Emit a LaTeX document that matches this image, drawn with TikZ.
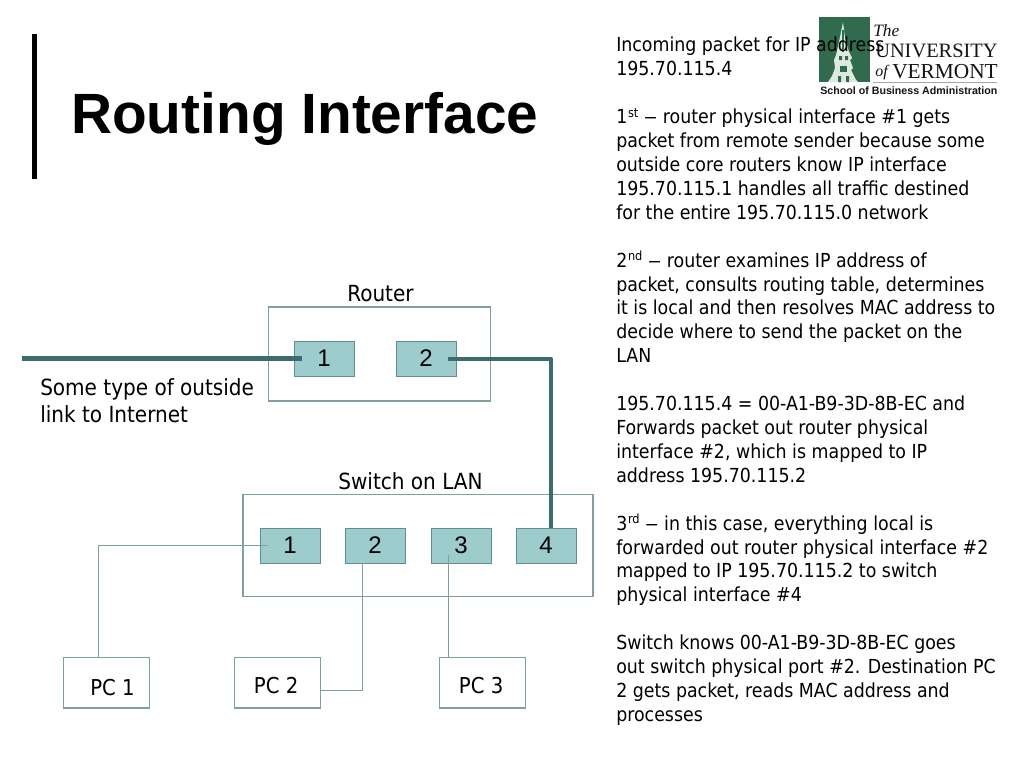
\documentclass[tikz,border=0pt]{standalone}
\usepackage{graphicx}
\usepackage{fontspec}
\setmainfont{Liberation Sans}
\newfontfamily\logoserif{Liberation Serif}
\newfontfamily\tah{DejaVu Sans Condensed}
\newcommand{\ordsup}[1]{\kern0.5pt\raisebox{0.6ex}{\fontsize{9.5}{9}\selectfont #1}}
\newcommand{\widedash}{\scalebox{1.55}[1]{–}}
\newcommand{\pclabel}[2]{\smash{\raisebox{#1}{#2}}}
\definecolor{lineteal}{HTML}{3B6C6E}
\definecolor{boxline}{HTML}{7F9FA0}
\definecolor{portfill}{HTML}{9CCCCC}
\definecolor{portline}{HTML}{5F8F8F}
\definecolor{uvmgreen}{HTML}{2F6B4C}
\definecolor{uvmpale}{HTML}{DDE9DF}
\tikzset{
  outerbox/.style={draw=boxline,line width=0.8pt,fill=white,minimum width=#1,inner sep=0pt},
  portbox/.style={draw=portline,line width=0.7pt,fill=portfill,minimum width=45pt,minimum height=26.2pt,inner sep=0pt,font=\fontsize{18}{20}\selectfont},
  pcbox/.style={draw=boxline,line width=0.8pt,fill=white,minimum width=64.5pt,minimum height=38.2pt,inner sep=0pt,font=\tah\fontsize{16.4}{18}\selectfont},
  lab/.style={inner sep=0pt,font=\tah\fontsize{16.7}{20.5}\selectfont,align=left},
  thickwire/.style={draw=lineteal,line width=4.4pt},
  midwire/.style={draw=lineteal,line width=3pt,line join=round},
  thinwire/.style={draw=boxline,line width=0.8pt},
  logotext/.style={anchor=base west,inner sep=0pt,text=black!92},
}
\begin{document}
\begin{tikzpicture}[x=0.75pt,y=-0.75pt]
\useasboundingbox (0,0) rectangle (1024,768);
\fill[white] (0,0) rectangle (1024,768);
% title
\fill[black] (31.5,34) rectangle (37,179);
\node[anchor=base west,inner sep=0pt,font=\bfseries\fontsize{42.6}{48}\selectfont] (title) at (71,133) {Routing Interface};
% router
\node[outerbox=167pt,minimum height=70.5pt] (router) at (379.5,354) {};
\node[portbox] (r1) at (324,358.5) {1};
\node[portbox] (r2) at (426,358.5) {2};
\node[lab] (routerlab) at (380.5,293.5) {Router};
% switch
\node[outerbox=262.5pt,minimum height=77pt] (switch) at (418,545.5) {};
\node[portbox] (s1) at (290,545.5) {1};
\node[portbox] (s2) at (375,545.5) {2};
\node[portbox] (s3) at (461,545.5) {3};
\node[portbox] (s4) at (546,545.5) {4};
\node[lab] (switchlab) at (410.5,481) {Switch on LAN};
% PCs
\node[pcbox] (pc1) at (106.5,682.5) {\hspace*{9pt}\pclabel{-9.4pt}{PC 1}};
\node[pcbox] (pc2) at (277.5,682.5) {\hspace*{-2pt}\pclabel{-7.9pt}{PC 2}};
\node[pcbox] (pc3) at (482.5,682.5) {\hspace*{-2pt}\pclabel{-7.9pt}{PC 3}};
\node[lab,anchor=north west] (outside) at (40,378) {Some type of outside\\link to Internet};
% wires
\coordinate (inet) at (22,358.5);
\draw[thickwire] (inet) -- ([xshift=6.5pt]r1.west |- inet);
\draw[midwire] ([xshift=-6pt]r2.east) -- (551,0 |- r2.east) -- (551,0 |- s4.north);
\draw[thinwire] ([xshift=6.7pt]s1.west) -- (98.5,0 |- s1.west) -- (98.5,0 |- pc1.north);
\draw[thinwire] (362.5,0 |- s2.south) -- (362.5,690.5) -- (pc2.east |- 0,690.5);
\draw[thinwire] (448.5,555) -- (448.5,0 |- pc3.north);
% logo
\fill[uvmgreen] (819,17) rectangle (869.5,82);
\fill[uvmpale] (843,22) -- (845,38) -- (849,52) -- (852,58) -- (850,60) -- (853,68) -- (851,70) -- (856,80) -- (858,82)
  -- (828,82) -- (832,76) -- (835,68) -- (834,60) -- (836,55) -- (839,42) -- cycle;
\fill[uvmgreen] (842,30) rectangle (844,52);
\fill[uvmgreen] (840,66) rectangle (847,72);
\fill[uvmgreen] (839,56) rectangle (842,60) (845,56) rectangle (848,60);
\fill[uvmgreen] (838,76) rectangle (841,82) (846,76) rectangle (849,82);
\draw[gray!70,line width=0.5pt] (873,82.5) -- (997,82.5);
\node[logotext,font=\logoserif\itshape\fontsize{13}{14}\selectfont] (the) at (873,36) {The};
\node[logotext,font=\logoserif\fontsize{15.3}{16}\selectfont] (univ) at (875,57) {UNIVERSITY};
\node[logotext,font=\logoserif\itshape\fontsize{12}{14}\selectfont] (of) at (875,76) {of};
\node[logotext,font=\logoserif\fontsize{16}{16}\selectfont] (verm) at (892,78) {VERMONT};
\node[logotext,font=\bfseries\fontsize{8}{9}\selectfont] (school) at (820,94.5) {School of Business Administration};
% body text
\node[anchor=north west,inner sep=0pt,align=left,font=\tah\fontsize{14.5}{17.93}\selectfont] (body) at (616,37) {%
Incoming packet for IP address\\
195.70.115.4\\[17.93pt]
1\ordsup{st} \widedash{} router physical interface \#1 gets\\
packet from remote sender because some\\
outside core routers know IP interface\\
195.70.115.1 handles all traffic destined\\
for the entire 195.70.115.0 network\\[17.93pt]
2\ordsup{nd} \widedash{} router examines IP address of\\
packet, consults routing table, determines\\
it is local and then resolves MAC address to\\
decide where to send the packet on the\\
LAN\\[17.93pt]
195.70.115.4 = 00-A1-B9-3D-8B-EC and\\
Forwards packet out router physical\\
interface \#2, which is mapped to IP\\
address 195.70.115.2\\[17.93pt]
3\ordsup{rd} \widedash{} in this case, everything local is\\
forwarded out router physical interface \#2\\
mapped to IP 195.70.115.2 to switch\\
physical interface \#4\\[17.93pt]
Switch knows 00-A1-B9-3D-8B-EC goes\\
out switch physical port \#2. Destination PC\\
2 gets packet, reads MAC address and\\
processes};
\end{tikzpicture}
\end{document}
